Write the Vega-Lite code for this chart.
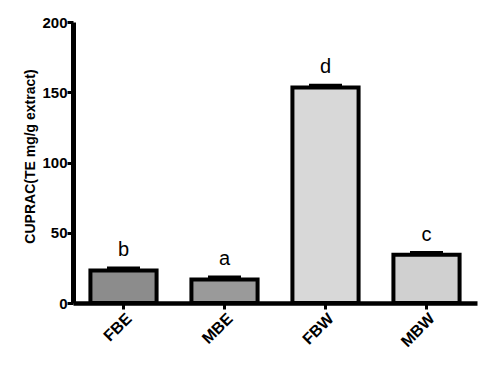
{
  "$schema": "https://vega.github.io/schema/vega-lite/v6.json",
  "width": 404,
  "height": 281,
  "autosize": {"type": "none"},
  "padding": {"left": 73, "top": 22, "right": 20, "bottom": 67},
  "background": "white",
  "config": {"view": {"stroke": null}, "font": "Liberation Sans"},
  "data": {
    "values": [
      {"sample": "FBE", "value": 23.2, "upper": 25.0, "letter": "b"},
      {"sample": "MBE", "value": 16.8, "upper": 18.5, "letter": "a"},
      {"sample": "FBW", "value": 153.3, "upper": 155.0, "letter": "d"},
      {"sample": "MBW", "value": 34.3, "upper": 35.9, "letter": "c"}
    ]
  },
  "encoding": {
    "x": {
      "field": "sample",
      "type": "nominal",
      "sort": null,
      "scale": {"paddingInner": 0.345, "paddingOuter": 0.1725},
      "axis": {
        "title": null,
        "labelAngle": -45,
        "labelFont": "Liberation Sans",
        "labelFontSize": 16,
        "labelFontWeight": "bold",
        "labelColor": "black",
        "labelPadding": 1,
        "domainColor": "black",
        "domainWidth": 4.5,
        "tickColor": "black",
        "tickWidth": 3,
        "tickSize": 6,
        "grid": false
      }
    }
  },
  "layer": [
    {
      "mark": {"type": "bar", "stroke": "black", "strokeWidth": 4, "strokeJoin": "miter"},
      "encoding": {
        "y": {
          "field": "value",
          "type": "quantitative",
          "scale": {"domain": [0, 200], "nice": false},
          "axis": {
            "title": "CUPRAC(TE mg/g extract)",
            "titleFont": "Liberation Sans",
            "titleFontSize": 14,
            "titleFontWeight": "bold",
            "titleColor": "black",
            "titleX": -43,
            "titleY": 134,
            "titleAngle": -90,
            "titleAlign": "center",
            "titleBaseline": "middle",
            "values": [0, 50, 100, 150, 200],
            "labelFont": "Liberation Sans",
            "labelFontSize": 15,
            "labelFontWeight": "bold",
            "labelColor": "black",
            "labelPadding": 0,
            "domainColor": "black",
            "domainWidth": 5,
            "tickColor": "black",
            "tickWidth": 3,
            "tickSize": 6,
            "grid": false
          }
        },
        "color": {
          "field": "sample",
          "type": "nominal",
          "sort": null,
          "legend": null,
          "scale": {"domain": ["FBE", "MBE", "FBW", "MBW"], "range": ["#8c8c8c", "#9a9a9a", "#d8d8d8", "#d0d0d0"]}
        }
      }
    },
    {
      "mark": {"type": "tick", "color": "black", "size": 33, "thickness": 3, "opacity": 1},
      "encoding": {"y": {"field": "upper", "type": "quantitative"}}
    },
    {
      "mark": {"type": "text", "font": "Liberation Sans", "fontSize": 20, "color": "black", "baseline": "alphabetic", "dy": -12},
      "encoding": {"y": {"field": "upper", "type": "quantitative"}, "text": {"field": "letter"}}
    }
  ]
}
